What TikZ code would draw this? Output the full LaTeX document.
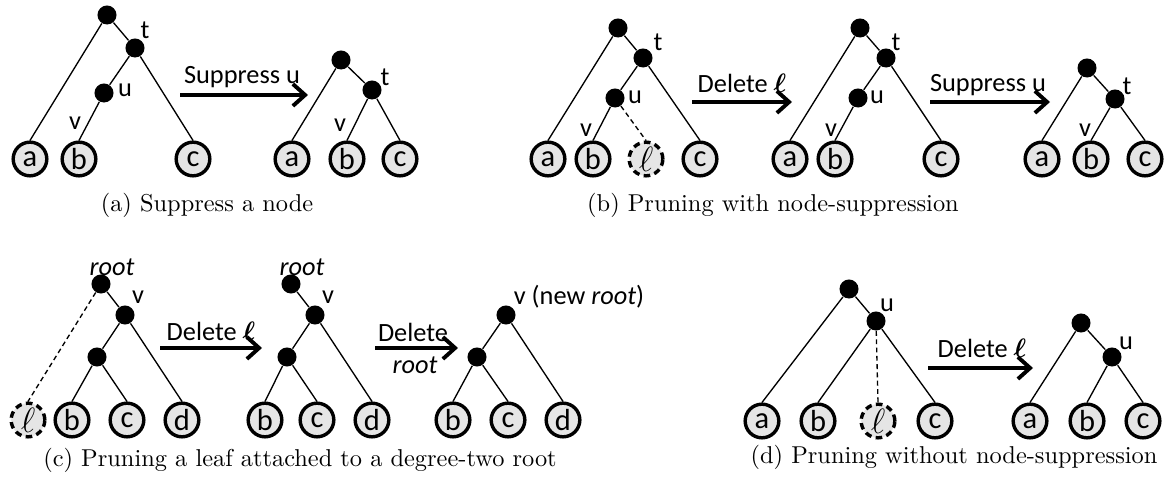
\documentclass[tikz,border=0pt]{standalone}
\usepackage{amsmath}
\usepackage{fontspec}
\newfontfamily\lbl{Carlito}
\usetikzlibrary{arrows.meta}

\tikzset{
  vdot/.style={circle, fill=black, inner sep=0pt, minimum size=7.8pt},
  leaf/.style={circle, draw=black, line width=1.4pt, fill=black!10, inner sep=0pt,
               minimum size=13.8pt, font=\lbl\fontsize{12.5}{12.5}\selectfont},
  gone/.style={leaf, dash pattern=on 2.7pt off 1.8pt, font=\fontsize{15}{15}\selectfont},
  twig/.style={line width=0.55pt},
  cut/.style={twig, dash pattern=on 2pt off 1.4pt},
  lab/.style={font=\lbl\fontsize{10.8}{11}\selectfont, inner sep=0pt},
  trans/.style={line width=1.6pt, -{Straight Barb[length=5pt,width=9pt]}},
  subcap/.style={font=\fontsize{10}{12}\selectfont, inner sep=0pt},
}

\begin{document}
\begin{tikzpicture}[x=0.41pt, y=-0.41pt]
\useasboundingbox (0,0) rectangle (1171,481);

% ---------------- (a) suppress a node ----------------
\node[vdot] (a1r) at (107,15) {};
\node[vdot] (a1t) at (135,48) {};
\node[vdot] (a1u) at (104,93) {};
\node[leaf] (a1a) at (30,159) {a};
\node[leaf] (a1b) at (79,159) {b};
\node[leaf] (a1c) at (193,159) {c};
\node[lab] (a1tl) at (145,30) {t};
\node[lab] (a1ul) at (125,90) {u};
\node[lab] (a1vl) at (75,123) {v};
\draw[twig] (a1r) -- (a1a.north);
\draw[twig] (a1r) -- (a1t);
\draw[twig] (a1t) -- (a1u);
\draw[twig] (a1u) -- (a1b.north);
\draw[twig] (a1t) -- (a1c.north);

\coordinate (aS) at (180,95);
\coordinate (aE) at (308,95);
\draw[trans] (aS) -- (aE);
\node[lab] (aL) at (242,77) {Suppress u};

\node[vdot] (a2r) at (341,60) {};
\node[vdot] (a2t) at (372,90) {};
\node[leaf] (a2a) at (292,159) {a};
\node[leaf] (a2b) at (347,159) {b};
\node[leaf] (a2c) at (400,159) {c};
\node[lab] (a2tl) at (385,77) {t};
\node[lab] (a2vl) at (340,125) {v};
\draw[twig] (a2r) -- (a2a.north);
\draw[twig] (a2r) -- (a2t);
\draw[twig] (a2t) -- (a2b.north);
\draw[twig] (a2t) -- (a2c.north);

\node[subcap] (capa) at (207,205) {(a) Suppress a node};

% ---------------- (b) pruning with node-suppression ----------------
\node[vdot] (b1r) at (618,28) {};
\node[vdot] (b1t) at (643,58) {};
\node[vdot] (b1u) at (615,98) {};
\node[leaf] (b1a) at (548,159) {a};
\node[leaf] (b1b) at (593,159) {b};
\node[gone] (b1l) at (646,159) {$\ell$};
\node[leaf] (b1c) at (700,159) {c};
\node[lab] (b1tl) at (658,42) {t};
\node[lab] (b1ul) at (635,97) {u};
\node[lab] (b1vl) at (586,130) {v};
\draw[twig] (b1r) -- (b1a.north);
\draw[twig] (b1r) -- (b1t);
\draw[twig] (b1t) -- (b1u);
\draw[twig] (b1t) -- (b1c.north);
\draw[twig] (b1u) -- (b1b.north);
\draw[cut] (b1u) -- (b1l.north);

\coordinate (bS1) at (692,102);
\coordinate (bE1) at (792,102);
\draw[trans] (bS1) -- (bE1);
\node[lab] (bL1) at (742,83) {Delete $\boldsymbol{\ell}$};

\node[vdot] (b2r) at (860,28) {};
\node[vdot] (b2t) at (886,58) {};
\node[vdot] (b2u) at (858,98) {};
\node[leaf] (b2a) at (790,159) {a};
\node[leaf] (b2b) at (835,159) {b};
\node[leaf] (b2c) at (941,159) {c};
\node[lab] (b2tl) at (896,42) {t};
\node[lab] (b2ul) at (877,97) {u};
\node[lab] (b2vl) at (831,130) {v};
\draw[twig] (b2r) -- (b2a.north);
\draw[twig] (b2r) -- (b2t);
\draw[twig] (b2t) -- (b2u);
\draw[twig] (b2t) -- (b2c.north);
\draw[twig] (b2u) -- (b2b.north);

\coordinate (bS2) at (930,102);
\coordinate (bE2) at (1050,102);
\draw[trans] (bS2) -- (bE2);
\node[lab] (bL2) at (988,85) {Suppress u};

\node[vdot] (b3r) at (1087,68) {};
\node[vdot] (b3t) at (1115,99) {};
\node[leaf] (b3a) at (1042,159) {a};
\node[leaf] (b3b) at (1091,159) {b};
\node[leaf] (b3c) at (1145,159) {c};
\node[lab] (b3tl) at (1127,86) {t};
\node[lab] (b3vl) at (1085,130) {v};
\draw[twig] (b3r) -- (b3a.north);
\draw[twig] (b3r) -- (b3t);
\draw[twig] (b3t) -- (b3b.north);
\draw[twig] (b3t) -- (b3c.north);

\node[subcap] (capb) at (773,205) {(b) Pruning with node-suppression};

% ---------------- (c) leaf at a degree-two root ----------------
\node[vdot] (c1r) at (101,284) {};
\node[vdot] (c1v) at (125,315) {};
\node[vdot] (c1i) at (97,357) {};
\node[gone] (c1l) at (28,420) {$\ell$};
\node[leaf] (c1b) at (72,420) {b};
\node[leaf] (c1c) at (127,420) {c};
\node[leaf] (c1d) at (182,420) {d};
\node[lab] (c1rl) at (112,267) {\itshape root};
\node[lab] (c1vl) at (138,297) {v};
\draw[cut] (c1r) -- (c1l.north);
\draw[twig] (c1r) -- (c1v);
\draw[twig] (c1v) -- (c1i);
\draw[twig] (c1v) -- (c1d.north);
\draw[twig] (c1i) -- (c1b.north);
\draw[twig] (c1i) -- (c1c.north);

\coordinate (cS1) at (160,348);
\coordinate (cE1) at (262,348);
\draw[trans] (cS1) -- (cE1);
\node[lab] (cL1) at (211,331) {Delete $\boldsymbol{\ell}$};

\node[vdot] (c2r) at (291,284) {};
\node[vdot] (c2v) at (315,315) {};
\node[vdot] (c2i) at (287,357) {};
\node[leaf] (c2b) at (265,420) {b};
\node[leaf] (c2c) at (317,420) {c};
\node[leaf] (c2d) at (372,420) {d};
\node[lab] (c2rl) at (302,267) {\itshape root};
\node[lab] (c2vl) at (328,297) {v};
\draw[twig] (c2r) -- (c2v);
\draw[twig] (c2v) -- (c2i);
\draw[twig] (c2v) -- (c2d.north);
\draw[twig] (c2i) -- (c2b.north);
\draw[twig] (c2i) -- (c2c.north);

\coordinate (cS2) at (375,348);
\coordinate (cE2) at (458,348);
\draw[trans] (cS2) -- (cE2);
\node[lab] (cL2a) at (413,332) {Delete};
\node[lab] (cL2b) at (415,365) {\itshape root};

\node[vdot] (c3v) at (506,315) {};
\node[vdot] (c3i) at (477,357) {};
\node[leaf] (c3b) at (453,420) {b};
\node[leaf] (c3c) at (508,420) {c};
\node[leaf] (c3d) at (563,420) {d};
\node[lab] (c3vl) at (579,297) {v (new \textit{root})};
\draw[twig] (c3v) -- (c3i);
\draw[twig] (c3v) -- (c3d.north);
\draw[twig] (c3i) -- (c3b.north);
\draw[twig] (c3i) -- (c3c.north);

\node[subcap] (capc) at (300,460) {(c) Pruning a leaf attached to a degree-two root};

% ---------------- (d) pruning without node-suppression ----------------
\node[vdot] (d1r) at (849,289) {};
\node[vdot] (d1u) at (876,321) {};
\node[leaf] (d1a) at (762,421) {a};
\node[leaf] (d1b) at (818,421) {b};
\node[gone] (d1l) at (878,421) {$\ell$};
\node[leaf] (d1c) at (935,421) {c};
\node[lab] (d1ul) at (887,305) {u};
\draw[twig] (d1r) -- (d1a.north);
\draw[twig] (d1r) -- (d1u);
\draw[twig] (d1u) -- (d1b.north);
\draw[cut] (d1u) -- (d1l.north);
\draw[twig] (d1u) -- (d1c.north);

\coordinate (dS) at (928,368);
\coordinate (dE) at (1033,368);
\draw[trans] (dS) -- (dE);
\node[lab] (dL) at (982,348) {Delete $\boldsymbol{\ell}$};

\node[vdot] (d2r) at (1081,323) {};
\node[vdot] (d2u) at (1112,357) {};
\node[leaf] (d2a) at (1030,421) {a};
\node[leaf] (d2b) at (1087,421) {b};
\node[leaf] (d2c) at (1143,421) {c};
\node[lab] (d2ul) at (1126,343) {u};
\draw[twig] (d2r) -- (d2a.north);
\draw[twig] (d2r) -- (d2u);
\draw[twig] (d2u) -- (d2b.north);
\draw[twig] (d2u) -- (d2c.north);

\node[subcap] (capd) at (954,457) {(d) Pruning without node-suppression};
\end{tikzpicture}
\end{document}
